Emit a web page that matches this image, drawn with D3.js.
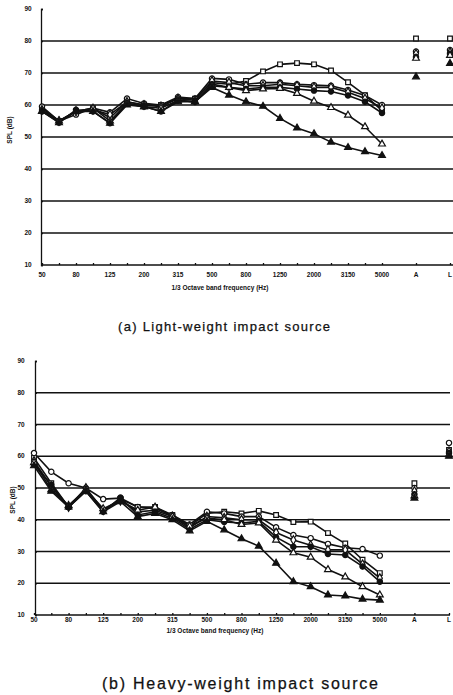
<!DOCTYPE html>
<html>
<head>
<meta charset="utf-8">
<script src="https://cdn.jsdelivr.net/npm/d3@7"></script>
<style>
  body { margin: 0; background: #fff; }
  svg { display: block; }
</style>
</head>
<body>
<div class="chart"></div>
<script>
// 1/3 octave bands, then the two single-number columns
var bands = ["50","63","80","100","125","160","200","250","315","400","500",
  "630","800","1000","1250","1600","2000","2500","3150","4000","5000"]
var slots = bands.concat(["gapA", "A", "gapL", "L"])
var tickLabels = ["50","80","125","200","315","500","800","1250","2000","3150","5000","A","L"]
var yTicks = [10, 20, 30, 40, 50, 60, 70, 80, 90]
var gridTicks = [20, 30, 40, 50, 60, 70, 80]

// (a) light-weight impact source
var lightSquare  = [59,55,58,59,56,61,60,60,62,62,67,66.5,67.5,70.5,72.7,73.1,72.7,70.8,67.1,63.1,58.2]
var lightCircle  = [59.5,55,57,59,57.7,62,60.5,60,62.5,62,68.3,68,66.5,67,67,66.5,66.2,66,64.7,63,60]
var lightDiamond = [58.5,55,58,58.5,57,61,60,59.5,62,61.5,67.5,67,66,66,66.5,66,65.5,65.5,64,62,59]
var lightDot     = [58,54.5,58.5,58,54.3,60.5,59.5,58,61.5,61,66.5,65.5,65,65.5,65.5,65,64.5,64.2,63,61,57.5]
var lightTri     = [58,55,58,59,55,60.5,59.5,59,61.5,61,66,65.5,64.5,65,65.2,63.6,61.2,59.2,56.8,53.2,47.8]
var lightTriFill = [58,54.5,58,58,54.3,60,59.5,58,61,61,65.5,63.1,61,59.6,55.8,52.8,51,48.4,46.7,45.4,44.2]
var lightA = [80.8, 76.7, 76, 75, 74.6, 68.8]
var lightL = [80.8, 77.2, 76.5, 76, 75.5, 73]

// (b) heavy-weight impact source
var heavySquare  = [59.5,51.5,44,49.5,43,46.5,44,44,41.5,38,42,42.5,42,42.8,41.5,39.3,39.4,35.8,32.5,27.4,23.2]
var heavyCircle  = [61,55.1,51.5,50,46.5,46.8,44,43.5,41.5,38.5,42.5,42,41,41,37.6,35.2,34.2,32.4,31.2,30.8,28.7]
var heavyDiamond = [58.5,50.5,44,50,43,46,42.5,43,41,37.5,41,40.6,40,40,36,33.6,32,30.5,30.5,26,21.6]
var heavyDot     = [57.5,51,44,49,42.5,47,41.5,42.5,40.5,37,40,39.3,39,39.5,34.5,31.5,31.5,29.2,28.9,25.3,20.5]
var heavyTri     = [58,49.5,44.5,49.5,43.5,46,43,44,41,38,40.5,40,38.5,39,33.6,29.6,28.2,24.3,22,18.9,16.3]
var heavyTriFill = [57,49,44,49,42.5,45.7,41,42,40,36.5,39.5,36.8,34,31.7,26.3,20.5,18.9,16.3,16,15,14.7]
var heavyA = [51.5, 50, 49, 48, 47.5, 46.8]
var heavyL = [62, 64.2, 61.5, 61, 60.5, 60]

var markers = [
  { type: d3.symbolSquare,   fill: "#fff" },
  { type: d3.symbolCircle,   fill: "#fff" },
  { type: d3.symbolDiamond,  fill: "#fff" },
  { type: d3.symbolCircle,   fill: "#111" },
  { type: d3.symbolTriangle, fill: "#fff" },
  { type: d3.symbolTriangle, fill: "#111" }
]

var svg = d3.select(".chart")
    .append("svg")
    .attr("width", 453)
    .attr("height", 695)

function drawPanel(p) {
  var x = d3.scalePoint().domain(slots).range([p.x0, p.x1])
  var y = d3.scaleLinear().domain([10, 90]).range([p.yBottom, p.yTop])
  var g = svg.append("g")

  // grid lines
  gridTicks.forEach(function (t) {
    g.append("line")
        .attr("x1", p.axisX).attr("x2", p.gridRight)
        .attr("y1", y(t)).attr("y2", y(t))
        .style("stroke", "#111")
        .style("stroke-width", 1.3)
  })

  // x axis with small ticks
  var xAxis = d3.axisBottom(x)
      .tickValues(slots.filter(function (s) { return s.indexOf("gap") < 0 }))
      .tickSize(-2)
      .tickFormat("")
  g.append("g")
      .attr("transform", "translate(0," + p.yBottom + ")")
      .call(xAxis)
      .call(function (a) {
        a.select(".domain").attr("d", "M" + p.axisX + ",0H" + p.gridRight)
        a.selectAll("line, path").style("stroke", "#111").style("stroke-width", 1.3)
      })

  // y axis
  var yAxis = d3.axisLeft(y).tickValues(yTicks).tickSize(-2).tickFormat("")
  g.append("g")
      .attr("transform", "translate(" + p.axisX + ",0)")
      .call(yAxis)
      .call(function (a) {
        a.selectAll("line, path").style("stroke", "#111").style("stroke-width", 1.3)
      })

  // y tick labels
  yTicks.forEach(function (t) {
    g.append("text")
        .attr("x", p.yLabelX)
        .attr("y", y(t) + 2.2)
        .attr("text-anchor", "middle")
        .text(t)
        .style("font-size", "6.5px")
        .style("font-weight", "bold")
        .attr("font-family", "Liberation Sans, sans-serif")
        .attr("fill", "#111")
  })

  // x tick labels
  tickLabels.forEach(function (t) {
    g.append("text")
        .attr("x", x(t))
        .attr("y", p.xLabelY)
        .attr("text-anchor", "middle")
        .text(t)
        .style("font-size", "6.5px")
        .style("font-weight", "bold")
        .attr("font-family", "Liberation Sans, sans-serif")
        .attr("fill", "#111")
  })

  g.append("text")
      .attr("x", (x("50") + x("5000")) / 2 + 8)
      .attr("y", p.titleY)
      .attr("text-anchor", "middle")
      .text("1/3 Octave band frequency (Hz)")
      .style("font-size", "6.5px")
      .style("font-weight", "bold")
      .attr("font-family", "Liberation Sans, sans-serif")
      .attr("fill", "#111")

  g.append("text")
      .attr("text-anchor", "middle")
      .attr("transform", "translate(" + p.splX + "," + p.splY + ") rotate(-90)")
      .text("SPL (dB)")
      .style("font-size", "6.5px")
      .style("font-weight", "bold")
      .attr("font-family", "Liberation Sans, sans-serif")
      .attr("fill", "#111")

  var line = d3.line()
      .x(function (d, i) { return x(bands[i]) })
      .y(function (d) { return y(d) })

  p.series.forEach(function (s) {
    g.append("path")
        .datum(s)
        .attr("d", line)
        .style("fill", "none")
        .style("stroke", "#111")
        .style("stroke-width", 1.6)
  })

  p.series.forEach(function (s, k) {
    var sym = d3.symbol().type(markers[k].type).size(markers[k].type == d3.symbolTriangle ? 20 : 22)
    s.forEach(function (v, i) {
      g.append("path")
          .attr("d", sym)
          .attr("transform", "translate(" + x(bands[i]) + "," + y(v) + ")")
          .style("fill", markers[k].fill)
          .style("stroke", "#111")
          .style("stroke-width", 1.2)
    })
    ;[["A", p.aVals[k]], ["L", p.lVals[k]]].forEach(function (c) {
      g.append("path")
          .attr("d", sym)
          .attr("transform", "translate(" + x(c[0]) + "," + y(c[1]) + ")")
          .style("fill", markers[k].fill)
          .style("stroke", "#111")
          .style("stroke-width", 1.2)
    })
  })

  g.append("text")
      .attr("x", p.capX)
      .attr("y", p.capY)
      .text(p.caption)
      .style("font-size", p.capSize + "px")
      .attr("font-family", "Liberation Sans, sans-serif")
      .attr("fill", "#111")
      .attr("stroke", "#111")
      .attr("stroke-width", 0.25)
      .attr("textLength", p.capW)
      .attr("lengthAdjust", "spacing")
}

drawPanel({
  x0: 42, x1: 450, yTop: 9, yBottom: 265, axisX: 41, gridRight: 453,
  yLabelX: 28, xLabelY: 277, titleY: 290, splX: 12, splY: 130,
  series: [lightSquare, lightCircle, lightDiamond, lightDot, lightTri, lightTriFill],
  aVals: lightA, lVals: lightL,
  caption: "(a) Light-weight impact source", capX: 118, capY: 331, capSize: 13, capW: 212
})

drawPanel({
  x0: 34, x1: 449, yTop: 361, yBottom: 615, axisX: 35, gridRight: 450,
  yLabelX: 21, xLabelY: 622, titleY: 632.5, splX: 15, splY: 500,
  series: [heavySquare, heavyCircle, heavyDiamond, heavyDot, heavyTri, heavyTriFill],
  aVals: heavyA, lVals: heavyL,
  caption: "(b) Heavy-weight impact source", capX: 102, capY: 689, capSize: 16, capW: 276
})
</script>
</body>
</html>
